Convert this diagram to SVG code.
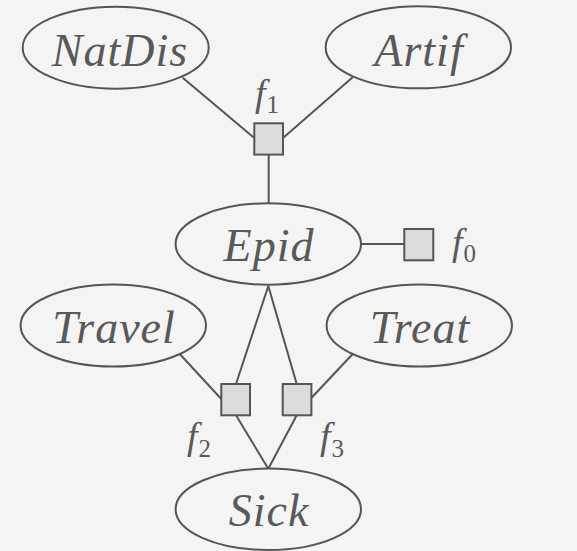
<svg xmlns="http://www.w3.org/2000/svg" width="577" height="551" viewBox="0 0 577 551">
<style>
.bg{fill:#f4f4f4}
.var ellipse{fill:none;stroke:#555555;stroke-width:2}
.var text{font-family:"Liberation Serif","DejaVu Serif",serif;font-style:italic;font-size:46px;fill:#595959;text-anchor:middle;letter-spacing:1px}
.fac rect{fill:#dcdcdc;stroke:#555555;stroke-width:2}
.fac text{font-family:"Liberation Serif","DejaVu Serif",serif;font-style:italic;font-size:38px;fill:#595959}
.fac tspan{font-style:normal;font-size:25px}
#edges line{stroke:#555555;stroke-width:2}
</style>
<rect class="bg" x="0" y="0" width="577" height="551"/>
<g id="edges">
<line x1="182.7" y1="77.7" x2="254.3" y2="138"/>
<line x1="352.7" y1="77.3" x2="283" y2="138"/>
<line x1="268.7" y1="154.7" x2="268.7" y2="203.3"/>
<line x1="361" y1="244" x2="404.3" y2="244"/>
<line x1="268.3" y1="286" x2="236" y2="384"/>
<line x1="268.3" y1="286" x2="296.7" y2="384"/>
<line x1="180" y1="354.3" x2="221.3" y2="399"/>
<line x1="352.7" y1="354" x2="311.3" y2="398"/>
<line x1="236" y1="415.3" x2="268.3" y2="468.7"/>
<line x1="296.7" y1="415.3" x2="268.3" y2="468.7"/>
</g>
<g id="NatDis" class="var"><ellipse cx="115.7" cy="47.7" rx="93" ry="41"/><text x="120" y="66">NatDis</text></g>
<g id="Artif" class="var"><ellipse cx="418.3" cy="47.3" rx="92.7" ry="41"/><text x="419" y="66">Artif</text></g>
<g id="Epid" class="var"><ellipse cx="268.3" cy="244" rx="92.7" ry="40.7"/><text x="269" y="261">Epid</text></g>
<g id="Travel" class="var"><ellipse cx="113.3" cy="325.5" rx="92.7" ry="41"/><text x="114" y="343">Travel</text></g>
<g id="Treat" class="var"><ellipse cx="419.3" cy="325.5" rx="92.7" ry="41"/><text x="420" y="343">Treat</text></g>
<g id="Sick" class="var"><ellipse cx="268.3" cy="509.3" rx="92.7" ry="40.7"/><text x="269" y="526">Sick</text></g>
<g id="f1" class="fac"><rect x="254.3" y="123.3" width="28.7" height="31.3"/><text x="255" y="106">f<tspan dx="1" dy="7">1</tspan></text></g>
<g id="f0" class="fac"><rect x="404.3" y="229" width="29" height="31.3"/><text x="452" y="255">f<tspan dx="1" dy="7">0</tspan></text></g>
<g id="f2" class="fac"><rect x="221.3" y="384" width="28.7" height="31.3"/><text x="187" y="449">f<tspan dx="1" dy="8">2</tspan></text></g>
<g id="f3" class="fac"><rect x="282.7" y="384" width="28.7" height="31.3"/><text x="320" y="449">f<tspan dx="1" dy="8">3</tspan></text></g>
</svg>
